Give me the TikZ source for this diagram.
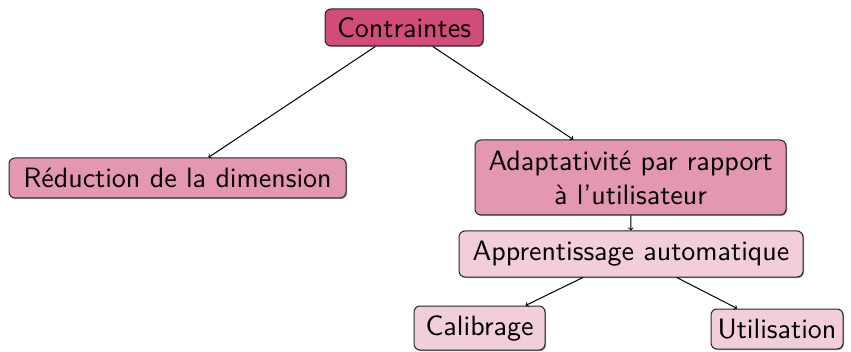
\documentclass[tikz,border=0pt]{standalone}
\usepackage{fontspec}
\usetikzlibrary{shadows}

\newfontfamily\diagfont[Ligatures=TeX]{lmsans10-regular.otf}

\definecolor{toppink}{RGB}{209,77,120}
\definecolor{midpink}{RGB}{228,152,176}
\definecolor{lightpink}{RGB}{242,205,218}

\begin{document}
\begin{tikzpicture}[
  x=1pt, y=1pt,
  every node/.style={font=\diagfont\fontsize{28}{34}\selectfont},
  box/.style={draw=black!85, rounded corners=6pt, inner sep=2pt, line width=1pt,
    drop shadow={shadow xshift=1pt, shadow yshift=-1pt, opacity=0.4, fill=black}},
  level0/.style={box, fill=toppink},
  level1/.style={box, fill=midpink},
  level2/.style={box, fill=lightpink},
  link/.style={draw, ->, line width=1pt}]

  \useasboundingbox (0,0) rectangle (851,351);

  % ---- nodes ----------------------------------------------------------------
  \node[level0, minimum width=158, minimum height=37] (con) at (404,323.5) {Contraintes};
  \node[level1, minimum width=337, minimum height=40] (red) at (177.5,173) {R\'eduction de la dimension};
  \node[level1, minimum width=311, minimum height=75, align=center] (ada) at (630.5,173.5)
    {Adaptativit\'e par rapport\\ \`a l'utilisateur};
  \node[level2, minimum width=344, minimum height=46] (app) at (631,97) {Apprentissage automatique};
  \node[level2, minimum width=131, minimum height=44] (cal) at (479.5,23) {Calibrage};
  \node[level2, minimum width=132, minimum height=40] (uti) at (777,22) {Utilisation};

  % ---- edges ----------------------------------------------------------------
  \draw[link] (con) -- (red);
  \draw[link] (con) -- (ada);
  \draw[link] (ada) -- (app);
  \draw[link] (app) -- (cal);
  \draw[link] (app) -- (uti);
\end{tikzpicture}
\end{document}
